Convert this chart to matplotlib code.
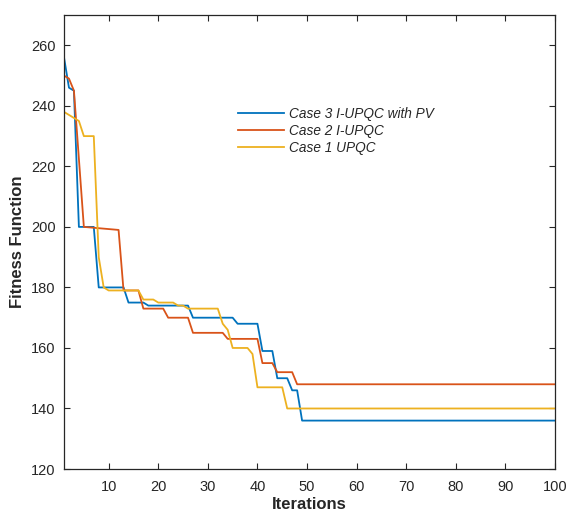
import matplotlib
matplotlib.use('Agg')
from matplotlib import pyplot as plt

# breakpoints (iteration, fitness)
case3_it = [1, 2, 3, 4, 7, 8, 13, 14, 17, 18, 26, 27, 35, 36, 40, 41, 43, 44, 46, 47, 48, 49, 100]
case3_fit = [256, 246, 245, 200, 200, 180, 180, 175, 175, 174, 174, 170, 170, 168, 168, 159, 159, 150, 150, 146, 146, 136, 136]

case2_it = [1, 2, 3, 5, 12, 13, 16, 17, 21, 22, 26, 27, 33, 34, 40, 41, 43, 44, 47, 48, 100]
case2_fit = [250, 249, 245, 200, 199, 179, 179, 173, 173, 170, 170, 165, 165, 163, 163, 155, 155, 152, 152, 148, 148]

case1_it = [1, 2, 3, 4, 5, 7, 8, 9, 10, 16, 17, 19, 20, 23, 24, 25, 26, 32, 33, 34, 35, 38, 39, 40, 45, 46, 100]
case1_fit = [238, 237, 236, 235, 230, 230, 190, 180, 179, 179, 176, 176, 175, 175, 174, 174, 173, 173, 168, 166, 160, 160, 158, 147, 147, 140, 140]

labels = ['Case 3 I-UPQC with PV', 'Case 2 I-UPQC', 'Case 1 UPQC']
colors = ['#0072BD', '#D95319', '#EDB120']

plt.rcParams['font.family'] = ['Liberation Sans', 'DejaVu Sans']

fig = plt.figure(figsize=(5.69, 5.19), dpi=100)
ax = fig.add_axes([0.1125, 0.0963, 0.863, 0.8747])

ax.plot(case3_it, case3_fit, color=colors[0], lw=1.3, label=labels[0])
ax.plot(case2_it, case2_fit, color=colors[1], lw=1.3, label=labels[1])
ax.plot(case1_it, case1_fit, color=colors[2], lw=1.3, label=labels[2])

ax.set_xlim(1, 100)
ax.set_ylim(120, 270)
ax.set_xticks(range(10, 101, 10))
ax.set_yticks(range(120, 261, 20))
ax.tick_params(direction='in', top=True, right=True, length=4, width=0.8,
               colors='#262626', labelsize=10.5)
ax.tick_params(axis='x', pad=8)
ax.tick_params(axis='y', pad=6)
for s in ax.spines.values():
    s.set_color('#262626')
    s.set_linewidth(0.9)

ax.set_xlabel('Iterations', fontsize=12, fontweight='bold', color='#262626', labelpad=2)
ax.set_ylabel('Fitness Function', fontsize=12, fontweight='bold', color='#262626', labelpad=4)

leg = ax.legend(loc='upper left', bbox_to_anchor=(0.33, 0.825), frameon=False,
                prop={'size': 9.8, 'style': 'italic'}, handlelength=3.35,
                handletextpad=0.4, labelspacing=0.22)
for t in leg.get_texts():
    t.set_color('#262626')

fig.savefig('out.png', dpi=100)
